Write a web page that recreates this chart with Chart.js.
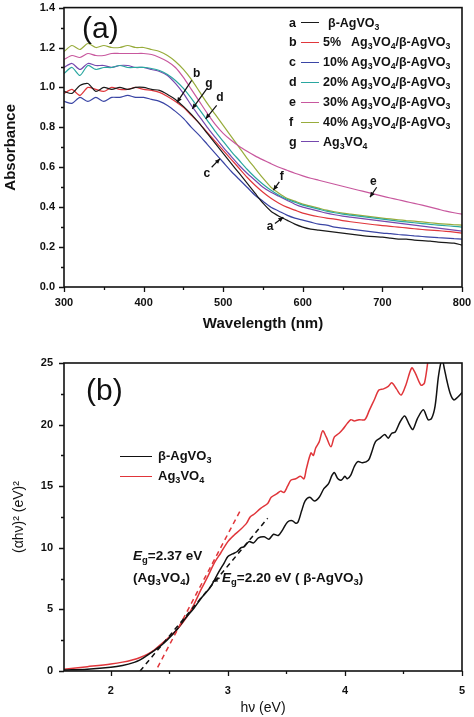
<!DOCTYPE html>
<html><head><meta charset="utf-8">
<script src="https://cdn.jsdelivr.net/npm/chart.js@4.4.1/dist/chart.umd.min.js"></script>
<style>
html,body{margin:0;padding:0;background:#fff;}
#wrap{position:relative;width:474px;height:717px;overflow:hidden;font-family:Arial,"Liberation Sans",sans-serif;color:#111;}
canvas{position:absolute;left:0;}
#ca{top:0}
#cb{top:345px}
.lbl{position:absolute;white-space:nowrap;color:#111;line-height:14px;}
.leg{font-weight:bold;font-size:12.5px;}
.legb{font-weight:bold;font-size:13px;}
sub{font-size:0.7em;vertical-align:-0.35em;line-height:0}
.ln{position:absolute;height:0;}
.panel{position:absolute;font-size:30px;font-weight:normal;line-height:30px;}
</style></head>
<body>
<div id="wrap">
<canvas id="ca" width="474" height="345"></canvas>
<canvas id="cb" width="474" height="372"></canvas>
</div>
<script>
// ---------- Panel (a) data ----------
const wavelengths = [300,310,320,330,340,350,360,370,380,390,400,410,420,430,440,450,460,470,480,490,500,510,520,530,540,550,560,570,580,590,600,610,620,630,640,650,660,670,680,690,700,710,720,730,740,750,760,770,780,790,800];
const absA = [0.98,0.97,1.01,1.02,0.98,1.00,0.99,1.00,0.99,1.00,1.00,0.99,0.985,0.965,0.94,0.905,0.865,0.82,0.77,0.72,0.67,0.62,0.57,0.52,0.47,0.42,0.38,0.355,0.335,0.315,0.30,0.29,0.285,0.28,0.275,0.27,0.265,0.26,0.255,0.252,0.25,0.245,0.24,0.24,0.235,0.232,0.23,0.225,0.222,0.22,0.21];
const absB = [0.97,0.99,0.96,1.00,0.99,0.98,1.00,0.99,0.99,1.00,0.99,0.985,0.975,0.955,0.93,0.90,0.86,0.82,0.775,0.73,0.685,0.64,0.595,0.55,0.51,0.475,0.445,0.42,0.40,0.385,0.37,0.36,0.352,0.345,0.34,0.333,0.327,0.322,0.317,0.312,0.308,0.304,0.30,0.296,0.292,0.288,0.285,0.282,0.279,0.275,0.27];
const absC = [0.93,0.92,0.95,0.93,0.95,0.93,0.95,0.95,0.96,0.95,0.95,0.94,0.93,0.91,0.88,0.845,0.80,0.76,0.715,0.67,0.625,0.58,0.54,0.50,0.46,0.43,0.40,0.38,0.36,0.345,0.335,0.325,0.315,0.31,0.30,0.295,0.29,0.285,0.28,0.275,0.27,0.267,0.263,0.26,0.256,0.253,0.25,0.247,0.245,0.242,0.24];
const absD = [1.07,1.10,1.06,1.11,1.09,1.10,1.10,1.11,1.10,1.10,1.10,1.095,1.085,1.065,1.035,0.995,0.945,0.89,0.835,0.78,0.73,0.68,0.635,0.59,0.55,0.515,0.485,0.46,0.44,0.425,0.41,0.40,0.39,0.38,0.372,0.365,0.36,0.355,0.35,0.345,0.34,0.335,0.33,0.326,0.322,0.318,0.314,0.31,0.307,0.304,0.30];
const absE = [1.14,1.16,1.15,1.17,1.16,1.16,1.17,1.17,1.17,1.17,1.17,1.165,1.15,1.13,1.10,1.05,0.99,0.93,0.87,0.815,0.77,0.735,0.705,0.68,0.657,0.637,0.618,0.60,0.585,0.57,0.557,0.545,0.535,0.525,0.515,0.505,0.495,0.485,0.475,0.465,0.455,0.446,0.437,0.428,0.419,0.41,0.40,0.39,0.38,0.372,0.365];
const absF = [1.18,1.21,1.19,1.22,1.20,1.21,1.20,1.20,1.21,1.20,1.20,1.19,1.18,1.16,1.13,1.09,1.04,0.98,0.92,0.865,0.81,0.755,0.70,0.645,0.595,0.545,0.50,0.47,0.445,0.43,0.415,0.405,0.395,0.385,0.377,0.37,0.365,0.36,0.355,0.35,0.345,0.341,0.337,0.333,0.33,0.326,0.322,0.318,0.315,0.312,0.31];
const absG = [1.10,1.12,1.09,1.12,1.11,1.11,1.10,1.11,1.11,1.10,1.10,1.09,1.08,1.06,1.02,0.97,0.91,0.855,0.80,0.75,0.70,0.655,0.61,0.57,0.535,0.50,0.475,0.455,0.435,0.415,0.40,0.39,0.38,0.37,0.362,0.355,0.35,0.345,0.34,0.335,0.33,0.325,0.32,0.315,0.31,0.305,0.30,0.295,0.29,0.285,0.28];
const seriesLettersA = ['a','b','c','d','e','f','g'];
const seriesNamesA = ['β-AgVO<sub>3</sub>','5%&nbsp;&nbsp; Ag<sub>3</sub>VO<sub>4</sub>/β-AgVO<sub>3</sub>','10% Ag<sub>3</sub>VO<sub>4</sub>/β-AgVO<sub>3</sub>','20% Ag<sub>3</sub>VO<sub>4</sub>/β-AgVO<sub>3</sub>','30% Ag<sub>3</sub>VO<sub>4</sub>/β-AgVO<sub>3</sub>','40% Ag<sub>3</sub>VO<sub>4</sub>/β-AgVO<sub>3</sub>','Ag<sub>3</sub>VO<sub>4</sub>'];
const xTicksA = [300,400,500,600,700,800];
const xMinorA = [350,450,550,650,750];
const yTicksA = [0,0.2,0.4,0.6,0.8,1.0,1.2,1.4];
const yMinorA = [0.1,0.3,0.5,0.7,0.9,1.1,1.3];
// curve annotations (letter, label point, arrow tail, arrow head) in data units
const annLetters = ['b','g','d','c','f','e','a'];
const annLabel = [[466.7,1.068],[482,1.02],[496,0.95],[479.3,0.568],[573.5,0.555],[688.6,0.53],[558.8,0.30]];
const annTail  = [[460.4,1.035],[479.3,0.993],[491.8,0.91],[485.5,0.60],[570.5,0.527],[692.8,0.50],[565,0.318]];
const annHead  = [[442,0.925],[461.2,0.893],[478,0.843],[496,0.643],[563,0.485],[684.4,0.45],[575.5,0.35]];

// ---------- Panel (b) data ----------
const energyBeta = [1.60,1.80,2.00,2.10,2.20,2.25,2.30,2.36,2.42,2.48,2.56,2.63,2.71,2.78,2.85,2.92,2.97,3.00,3.04,3.08,3.11,3.14,3.18,3.22,3.26,3.31,3.35,3.39,3.43,3.47,3.51,3.55,3.58,3.60,3.63,3.66,3.70,3.74,3.78,3.82,3.86,3.89,3.91,3.94,3.97,4.00,4.02,4.05,4.08,4.11,4.15,4.20,4.23,4.26,4.30,4.34,4.37,4.40,4.43,4.47,4.51,4.55,4.58,4.62,4.67,4.71,4.74,4.77,4.80,4.83,4.85,4.87,4.90,4.93,4.96,5.00];
const valBeta = [0.08,0.15,0.30,0.45,0.70,0.90,1.20,1.60,2.00,2.50,3.30,4.20,5.10,6.00,6.80,8.00,8.80,9.30,9.50,9.70,10.0,10.1,10.5,10.4,10.8,10.9,10.7,11.1,11.0,11.5,12.1,12.2,12.0,12.1,13.0,13.8,14.1,13.8,14.1,14.8,15.2,15.9,16.1,15.6,15.5,15.8,15.6,15.9,16.6,17.0,16.9,17.1,17.8,18.6,18.9,19.2,18.9,19.3,19.4,20.2,20.7,20.0,19.6,20.5,21.2,20.4,20.5,21.5,24.0,25.3,24.5,23.6,22.5,22.0,22.2,22.6];
const energyAg = [1.60,1.80,2.00,2.10,2.19,2.25,2.31,2.37,2.42,2.48,2.56,2.65,2.71,2.77,2.83,2.88,2.94,3.00,3.05,3.11,3.16,3.19,3.22,3.28,3.34,3.37,3.42,3.45,3.48,3.51,3.54,3.58,3.62,3.65,3.67,3.71,3.73,3.75,3.78,3.81,3.84,3.88,3.91,3.95,3.98,4.02,4.05,4.08,4.12,4.17,4.21,4.25,4.29,4.33,4.37,4.40,4.44,4.48,4.52,4.57,4.60,4.65,4.68,4.72];
const valAg = [0.14,0.35,0.57,0.72,0.92,1.10,1.35,1.70,2.10,2.60,3.30,4.40,5.40,6.60,7.70,8.70,9.60,10.5,11.0,11.5,12.0,12.5,12.7,13.2,13.6,14.1,14.4,14.6,14.5,15.0,15.5,15.6,15.8,15.6,16.4,17.7,17.5,18.1,18.6,19.5,19.0,18.2,19.0,19.3,19.6,20.1,20.4,20.3,20.4,20.4,21.2,22.0,22.8,22.9,23.1,23.4,22.9,22.4,23.2,24.6,24.2,23.2,23.4,26.0];
const tangentBetaX = [2.25,3.34];
const tangentBetaY = [0.0,12.4];
const tangentAgX = [2.40,3.11];
const tangentAgY = [0.3,13.1];
const seriesNamesB = ['β-AgVO<sub>3</sub>','Ag<sub>3</sub>VO<sub>4</sub>'];
const xTicksB = [2,3,4,5];
const xMinorB = [2.5,3.5,4.5];
const yTicksB = [0,5,10,15,20,25];
const yMinorB = [2.5,7.5,12.5,17.5,22.5];
// small pointer from the β-AgVO3 band-gap label to its curve
const annBTail = [[2.93,7.55]];
const annBHead = [[2.87,7.25]];

// ---------- styles ----------
const colorsA = ['#1a1a1a','#e0373c','#3a45a5','#2aa7a0','#c8589e','#98ac3c','#7548ae'];
const colorsB = ['#111111','#e0353a'];
const FONT = 'Arial, "Liberation Sans", sans-serif';

const framePlugin = {
  id: 'frame',
  afterDraw(chart, args, o) {
    const {ctx, chartArea: a, scales} = chart;
    const xs = scales.x, ys = scales.y;
    ctx.save();
    ctx.strokeStyle = '#111';
    ctx.lineWidth = 1.6;
    ctx.strokeRect(a.left, a.top, a.right - a.left, a.bottom - a.top);
    ctx.lineWidth = 1.3;
    ctx.beginPath();
    o.xMajor.forEach(v => { const p = Math.round(xs.getPixelForValue(v)) + 0.5; ctx.moveTo(p, a.bottom); ctx.lineTo(p, a.bottom + 5); });
    o.xMinor.forEach(v => { const p = Math.round(xs.getPixelForValue(v)) + 0.5; ctx.moveTo(p, a.bottom); ctx.lineTo(p, a.bottom + 3); });
    o.yMajor.forEach(v => { const p = Math.round(ys.getPixelForValue(v)) + 0.5; ctx.moveTo(a.left, p); ctx.lineTo(a.left - 5, p); });
    o.yMinor.forEach(v => { const p = Math.round(ys.getPixelForValue(v)) + 0.5; ctx.moveTo(a.left, p); ctx.lineTo(a.left - 3, p); });
    ctx.stroke();
    if (o.arrows) {
      const ar = o.arrows;
      ctx.fillStyle = '#111';
      ctx.lineWidth = 1.2;
      ctx.font = 'bold 12px ' + FONT;
      ctx.textAlign = 'center';
      ctx.textBaseline = 'middle';
      ar.tail.forEach((t, i) => {
        const tx = xs.getPixelForValue(t[0]), ty = ys.getPixelForValue(t[1]);
        const hx = xs.getPixelForValue(ar.head[i][0]), hy = ys.getPixelForValue(ar.head[i][1]);
        if (ar.letters) {
          ctx.fillText(ar.letters[i], xs.getPixelForValue(ar.label[i][0]), ys.getPixelForValue(ar.label[i][1]));
        }
        ctx.beginPath(); ctx.moveTo(tx, ty); ctx.lineTo(hx, hy); ctx.stroke();
        const ang = Math.atan2(hy - ty, hx - tx), len = 5, w = 2.3;
        ctx.beginPath();
        ctx.moveTo(hx, hy);
        ctx.lineTo(hx - len * Math.cos(ang) + w * Math.sin(ang), hy - len * Math.sin(ang) - w * Math.cos(ang));
        ctx.lineTo(hx - len * Math.cos(ang) - w * Math.sin(ang), hy - len * Math.sin(ang) + w * Math.cos(ang));
        ctx.closePath(); ctx.fill();
      });
    }
    ctx.restore();
  }
};

function tickFont(){ return {family: FONT, size: 11, weight: 'bold'}; }

// ---------- Chart (a) ----------
const dsA = [absA, absB, absC, absD, absE, absF, absG].map((s, i) => ({
  label: seriesLettersA[i],
  data: wavelengths.map((w, j) => ({x: w, y: s[j]})),
  borderColor: colorsA[i], borderWidth: 1.2, pointRadius: 0, tension: 0.25, fill: false
}));
new Chart(document.getElementById('ca'), {
  type: 'line',
  data: {datasets: dsA},
  plugins: [framePlugin],
  options: {
    responsive: false, animation: false, events: [],
    layout: {padding: {top: 7, right: 12, left: 0, bottom: 0}},
    plugins: {legend: {display: false}, tooltip: {enabled: false},
      frame: {xMajor: xTicksA, xMinor: xMinorA, yMajor: yTicksA, yMinor: yMinorA,
        arrows: {letters: annLetters, label: annLabel, tail: annTail, head: annHead}}},
    scales: {
      x: {type: 'linear', min: 300, max: 800,
        afterBuildTicks: s => { s.ticks = xTicksA.map(v => ({value: v})); },
        afterFit: s => { s.height = 58; },
        grid: {display: false}, border: {display: false},
        ticks: {color: '#111', font: tickFont(), padding: 1, maxRotation: 0, callback: v => String(v)},
        title: {display: true, text: 'Wavelength (nm)', color: '#111', font: {family: FONT, size: 15, weight: 'bold'}, padding: {top: 1, bottom: 12}}},
      y: {type: 'linear', min: 0, max: 1.4,
        afterBuildTicks: s => { s.ticks = yTicksA.map(v => ({value: v})); },
        afterFit: s => { s.width = 64; },
        grid: {display: false}, border: {display: false},
        ticks: {color: '#111', font: tickFont(), padding: 1, callback: v => Number(v).toFixed(1)},
        title: {display: true, text: 'Absorbance', color: '#111', font: {family: FONT, size: 15, weight: 'bold'}, padding: {top: 2, bottom: 0}}}
    }
  }
});

// ---------- Chart (b) ----------
const dsB = [
  {label: 'tanBeta', data: tangentBetaX.map((x, j) => ({x, y: tangentBetaY[j]})), borderColor: colorsB[0], borderWidth: 1.5, borderDash: [5, 4], pointRadius: 0, fill: false},
  {label: 'tanAg', data: tangentAgX.map((x, j) => ({x, y: tangentAgY[j]})), borderColor: colorsB[1], borderWidth: 1.5, borderDash: [5, 4], pointRadius: 0, fill: false},
  {label: 'beta', data: energyBeta.map((x, j) => ({x, y: valBeta[j]})), borderColor: colorsB[0], borderWidth: 1.5, pointRadius: 0, tension: 0.3, fill: false},
  {label: 'ag', data: energyAg.map((x, j) => ({x, y: valAg[j]})), borderColor: colorsB[1], borderWidth: 1.5, pointRadius: 0, tension: 0.3, fill: false}
];
new Chart(document.getElementById('cb'), {
  type: 'line',
  data: {datasets: dsB},
  plugins: [framePlugin],
  options: {
    responsive: false, animation: false, events: [],
    layout: {padding: {top: 18, right: 12, left: 0, bottom: 0}},
    plugins: {legend: {display: false}, tooltip: {enabled: false},
      frame: {xMajor: xTicksB, xMinor: xMinorB, yMajor: yTicksB, yMinor: yMinorB,
        arrows: {tail: annBTail, head: annBHead}}},
    scales: {
      x: {type: 'linear', min: 1.6, max: 5,
        afterBuildTicks: s => { s.ticks = xTicksB.map(v => ({value: v})); },
        afterFit: s => { s.height = 46; },
        grid: {display: false}, border: {display: false},
        ticks: {color: '#111', font: tickFont(), padding: 5, maxRotation: 0, callback: v => String(v)},
        title: {display: true, text: 'hν (eV)', color: '#111', font: {family: FONT, size: 14, weight: 'normal'}, padding: {top: 8, bottom: 0}}},
      y: {type: 'linear', min: 0, max: 25,
        afterBuildTicks: s => { s.ticks = yTicksB.map(v => ({value: v})); },
        afterFit: s => { s.width = 64; },
        grid: {display: false}, border: {display: false},
        ticks: {color: '#111', font: tickFont(), padding: 3, callback: v => String(v)},
        title: {display: true, text: '(αhν)² (eV)²', color: '#111', font: {family: FONT, size: 14, weight: 'normal'}, padding: {top: 11, bottom: 0}}}
    }
  }
});

// ---------- HTML legends & labels ----------
const wrap = document.getElementById('wrap');
function addEl(cls, html, left, top, extra) {
  const d = document.createElement('div');
  d.className = cls; d.innerHTML = html;
  d.style.left = left + 'px'; d.style.top = top + 'px';
  if (extra) Object.assign(d.style, extra);
  wrap.appendChild(d); return d;
}
seriesLettersA.forEach((L, i) => {
  const cy = 22.5 + i * 19.9;
  addEl('lbl leg', L, 289, cy - 7);
  addEl('ln', '', 301, cy - 0.5, {width: '18px', borderTop: '1.5px solid ' + colorsA[i]});
  addEl('lbl leg', seriesNamesA[i], i === 0 ? 328 : 323, cy - 7);
});
seriesNamesB.forEach((n, i) => {
  const cy = 456 + i * 20;
  addEl('ln', '', 120, cy - 0.5, {width: '32px', borderTop: '1.5px solid ' + colorsB[i]});
  addEl('lbl legb', n, 158, cy - 7);
});
addEl('panel', '(a)', 82, 13);
addEl('panel', '(b)', 86, 375);
addEl('lbl legb', '<i>E</i><sub>g</sub>=2.37 eV', 133, 549, {fontSize: '13.5px'});
addEl('lbl legb', '(Ag<sub>3</sub>VO<sub>4</sub>)', 133, 571, {fontSize: '13.5px'});
addEl('lbl legb', '<i>E</i><sub>g</sub>=2.20 eV ( β-AgVO<sub>3</sub>)', 222, 571, {fontSize: '13.5px'});
</script>
</body></html>
